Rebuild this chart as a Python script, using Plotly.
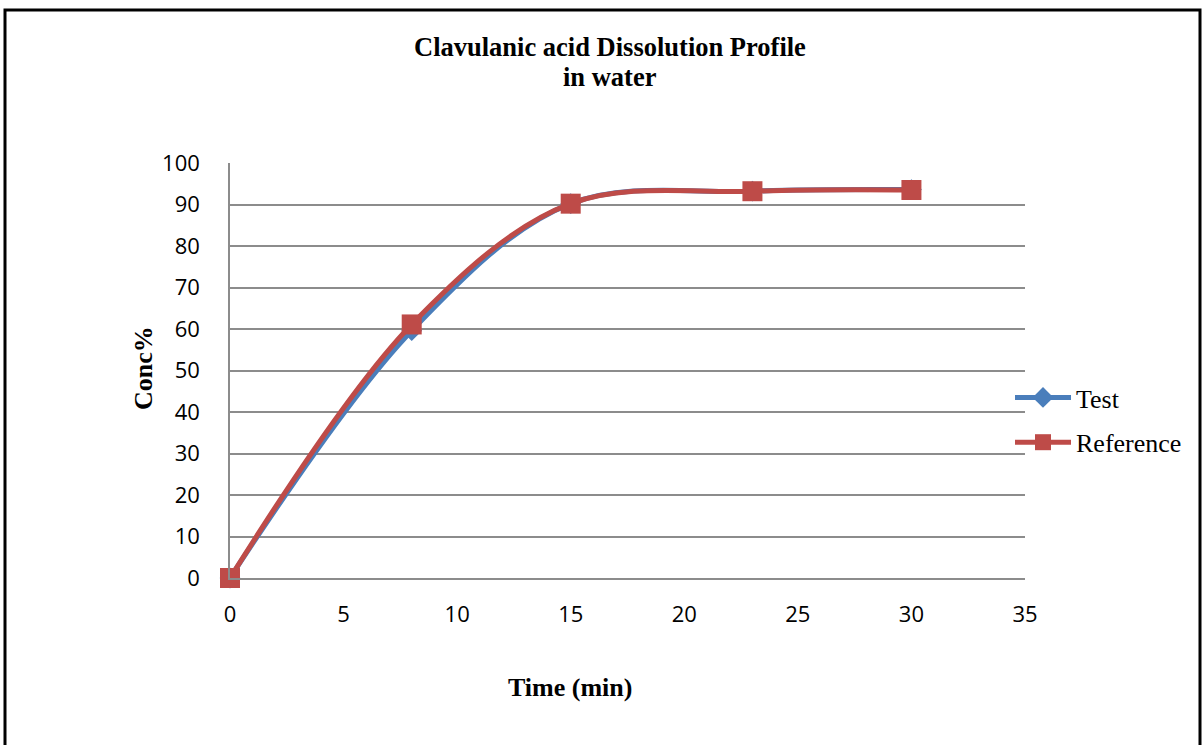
import plotly.graph_objects as go

# ---- data ----
time_min = [0, 8, 15, 23, 30]
test_conc = [0, 59.6, 90.2, 93.2, 93.6]
reference_conc = [0, 61.1, 90.2, 93.2, 93.5]
x_ticks = [0, 5, 10, 15, 20, 25, 30, 35]
y_ticks = [0, 10, 20, 30, 40, 50, 60, 70, 80, 90, 100]

W, H = 1203, 745
L, R, T, B = 230, 178, 163, 167
PW, PH = W - L - R, H - T - B


def px(x):
    return (x - L) / PW


def py(y):
    return (H - B - y) / PH


BLUE = "#4A7EBB"
RED = "#BE4B48"
GRID = "#8C8C8C"
SERIF = "Liberation Serif, Times New Roman, serif"
SANS = "Open Sans, Liberation Sans, sans-serif"

fig = go.Figure()
fig.add_trace(go.Scatter(
    x=time_min, y=test_conc, name="Test", mode="lines+markers",
    line=dict(color=BLUE, width=5, shape="spline", smoothing=1.0),
    marker=dict(symbol="diamond", size=16, color=BLUE),
    legendgroup="a", cliponaxis=False,
))
fig.add_trace(go.Scatter(
    x=time_min, y=reference_conc, name="Reference", mode="lines+markers",
    line=dict(color=RED, width=5, shape="spline", smoothing=1.0),
    marker=dict(symbol="square", size=20, color=RED),
    legendgroup="b", cliponaxis=False,
))

fig.update_layout(
    width=W, height=H,
    margin=dict(l=L, r=R, t=T, b=B, pad=0),
    paper_bgcolor="white", plot_bgcolor="white",
    showlegend=True,
    legend=dict(
        x=px(1010), y=py(420), xanchor="left", yanchor="middle",
        font=dict(family=SERIF, size=26, color="black"),
        tracegroupgap=8, itemwidth=56, bgcolor="rgba(0,0,0,0)",
    ),
    xaxis=dict(
        range=[0, 35], tickvals=x_ticks, ticks="", showgrid=False,
        showline=True, linecolor=GRID, linewidth=1.5, zeroline=False,
        tickfont=dict(family=SANS, size=22, color="black"),
        ticklabelstandoff=16,
    ),
    yaxis=dict(
        range=[0, 100], tickvals=y_ticks, ticks="", showgrid=True,
        gridcolor=GRID, gridwidth=1.5,
        showline=True, linecolor=GRID, linewidth=1.5, zeroline=False,
        tickfont=dict(family=SANS, size=22, color="black"),
        ticklabelstandoff=24,
    ),
    annotations=[
        dict(text="<b>Clavulanic acid Dissolution Profile</b>", xref="paper", yref="paper",
             x=px(610), y=py(47), xanchor="center", yanchor="middle", showarrow=False,
             font=dict(family=SERIF, size=26.5, color="black")),
        dict(text="<b>in water</b>", xref="paper", yref="paper",
             x=px(610), y=py(77), xanchor="center", yanchor="middle", showarrow=False,
             font=dict(family=SERIF, size=26.5, color="black")),
        dict(text="<b>Conc%</b>", xref="paper", yref="paper", textangle=-90,
             x=px(143), y=py(368), xanchor="center", yanchor="middle", showarrow=False,
             font=dict(family=SERIF, size=26, color="black")),
        dict(text="<b>Time (min)</b>", xref="paper", yref="paper",
             x=px(570), y=py(687), xanchor="center", yanchor="middle", showarrow=False,
             font=dict(family=SERIF, size=26, color="black")),
    ],
    shapes=[
        dict(type="rect", xref="paper", yref="paper",
             x0=px(5), x1=px(1200), y0=py(800), y1=py(10),
             line=dict(color="black", width=3), fillcolor="rgba(0,0,0,0)", layer="above"),
    ],
)

fig.write_html("out.html")
